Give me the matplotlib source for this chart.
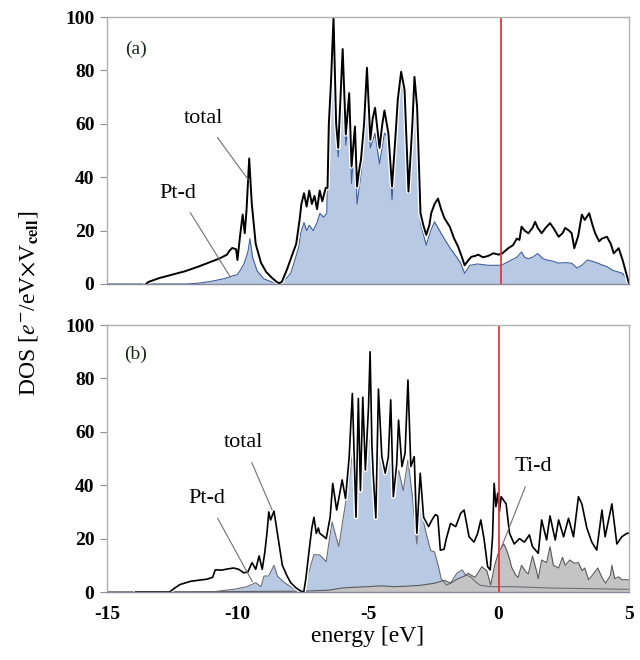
import matplotlib
matplotlib.use("Agg")
import matplotlib.pyplot as plt
import matplotlib.patheffects as pe

plt.rcParams["font.family"] = ["Liberation Serif", "DejaVu Serif"]
plt.rcParams["mathtext.fontset"] = "stix"

# ---------------------------------------
# (a) values
# ---------------------------------------
e_tot_a = [-13.5, -13.4, -13.0, -12.5, -12.0, -11.5, -11.1, -10.7, -10.4, -10.3,
           -10.2, -10.05, -10.0, -9.9, -9.8, -9.72, -9.65, -9.55, -9.45, -9.3,
           -9.1, -8.9, -8.7, -8.5, -8.4, -8.3, -8.1, -7.9, -7.75, -7.62,
           -7.55, -7.45, -7.35, -7.25, -7.15, -7.05, -6.95, -6.85, -6.75, -6.62,
           -6.55, -6.5, -6.42, -6.32, -6.22, -6.14, -5.97, -5.85, -5.72, -5.63,
           -5.5, -5.42, -5.35, -5.27, -5.15, -5.04, -4.91, -4.82, -4.73, -4.56,
           -4.45, -4.37, -4.22, -4.08, -3.95, -3.86, -3.73, -3.6, -3.45, -3.3,
           -3.22, -3.12, -2.99, -2.88, -2.77, -2.65, -2.58, -2.45, -2.32, -2.2,
           -2.07, -1.87, -1.7, -1.55, -1.4, -1.3, -1.15, -1.04, -0.9, -0.78,
           -0.6, -0.4, -0.2, 0.0, 0.15, 0.37, 0.55, 0.7, 0.8, 0.88,
           1.0, 1.14, 1.3, 1.4, 1.5, 1.65, 1.8, 1.97, 2.1, 2.3,
           2.45, 2.55, 2.7, 2.8, 2.9, 3.05, 3.19, 3.3, 3.47, 3.6,
           3.7, 3.85, 3.96, 4.15, 4.3, 4.41, 4.6, 4.75, 4.86, 5.0]
dos_tot_a = [0, 0.8, 2.2, 3.5, 4.8, 6.5, 8, 9.5, 11, 12.5,
             13.5, 13, 9, 18, 26, 19, 28, 47, 30, 15,
             8, 4.5, 2.5, 0.8, 0.3, 0.8, 5.5, 11, 15, 24,
             30, 34, 29, 35, 30, 33, 28, 35, 31, 36,
             36, 60, 75, 100, 60, 51, 88, 56, 71.5, 44,
             59, 36.5, 42, 46.5, 60, 81, 54, 62, 66, 51,
             60, 65, 56.5, 36.5, 55, 69, 79.5, 72.7, 34.6, 60,
             77.6, 66.4, 26.5, 22, 18.4, 22, 26.5, 30, 32, 28,
             24.6, 21.5, 17, 14, 10, 7, 9, 10.2, 10.5, 11,
             10, 10.5, 11.5, 11, 11.5, 13.4, 14.5, 17, 16.5, 21.5,
             20, 19, 21, 23.3, 21, 19, 21, 22.8, 21, 17.7,
             19, 21, 20, 19, 13.4, 18, 26, 24, 26.5, 22,
             19, 16, 17, 17.7, 15, 11.5, 13.4, 9, 5, 0]

e_ptd_a = [-15.0, -12.0, -11.5, -11.0, -10.5, -10.2, -10.0, -9.9, -9.75, -9.6,
           -9.52, -9.42, -9.25, -9.0, -8.7, -8.4, -8.3, -8.1, -7.96, -7.8,
           -7.65, -7.58, -7.45, -7.35, -7.25, -7.1, -6.95, -6.84, -6.7, -6.58,
           -6.52, -6.42, -6.32, -6.22, -6.14, -5.97, -5.85, -5.72, -5.63, -5.5,
           -5.42, -5.27, -5.15, -5.04, -4.91, -4.73, -4.56, -4.37, -4.22, -4.08,
           -3.86, -3.73, -3.6, -3.45, -3.22, -3.12, -2.99, -2.77, -2.6, -2.45,
           -2.2, -2.05, -1.85, -1.6, -1.45, -1.3, -1.1, -0.8, -0.4, 0.1,
           0.3, 0.5, 0.7, 0.88, 1.0, 1.14, 1.3, 1.5, 1.7, 1.85,
           2.1, 2.3, 2.55, 2.8, 3.0, 3.19, 3.4, 3.6, 3.8, 4.0,
           4.15, 4.4, 4.55, 4.75, 4.9, 5.0]
dos_ptd_a = [0, 0, 0.3, 1.0, 2.0, 3.0, 3.5, 5, 7.5, 12,
             17, 10, 5, 2, 0.8, 0.1, 0.3, 2.5, 4, 9,
             14, 19, 23, 20, 22, 20, 23, 26.5, 25, 26.5,
             55, 70, 95, 58, 47.7, 81, 52, 65, 37.7, 56,
             30, 41, 55, 75, 51, 56.5, 45, 56.5, 55, 31.5,
             65, 75, 69, 34, 71.5, 57, 22.8, 14.6, 20, 23.3,
             19, 16.5, 13.4, 10, 7.8, 4, 7, 7.5, 7, 7,
             8, 9, 10, 12, 10, 9.5, 10, 11.4, 9.5, 9,
             8.5, 7.8, 8, 7.8, 6, 7, 9, 8.5, 7.8, 7,
             6.5, 5, 4.6, 4, 2, 0]

# ---------------------------------------
# (b) values
# ---------------------------------------
e_tot_b = [-13.9, -12.6, -12.4, -12.2, -11.8, -11.5, -11.17, -10.95, -10.85, -10.6,
           -10.4, -10.15, -9.95, -9.76, -9.6, -9.44, -9.3, -9.17, -9.05, -8.95,
           -8.86, -8.8, -8.73, -8.6, -8.47, -8.28, -8.1, -7.96, -7.75, -7.6,
           -7.46, -7.38, -7.25, -7.15, -7.07, -6.98, -6.9, -6.85, -6.72, -6.6,
           -6.45, -6.35, -6.2, -6.1, -5.99, -5.86, -5.72, -5.6, -5.46, -5.37,
           -5.29, -5.2, -5.1, -4.98, -4.92, -4.85, -4.8, -4.7, -4.6, -4.47,
           -4.34, -4.22, -4.13, -4.03, -3.9, -3.83, -3.7, -3.58, -3.47, -3.36,
           -3.23, -3.13, -3.0, -2.87, -2.68, -2.55, -2.42, -2.33, -2.23, -2.09,
           -2.0, -1.84, -1.64, -1.45, -1.32, -1.13, -0.94, -0.8, -0.68, -0.55,
           -0.42, -0.32, -0.23, -0.17, -0.1, -0.03, 0.03, 0.1, 0.29, 0.42,
           0.6, 0.8, 0.99, 1.18, 1.3, 1.52, 1.65, 1.84, 1.97, 2.17,
           2.3, 2.49, 2.68, 2.87, 3.06, 3.19, 3.38, 3.57, 3.76, 3.96,
           4.08, 4.34, 4.53, 4.72, 4.92, 5.0]
dos_tot_b = [0, 0, 1.5, 2.8, 4, 4.4, 4.8, 5.5, 8.3, 8.2,
             8.6, 9, 8.5, 7.2, 7.5, 11, 8.5, 13.5, 8.5, 15,
             23, 30, 27, 30.3, 22, 10, 6, 3.5, 1.5, 0.5,
             0, 5, 16, 24, 28, 22, 24, 22, 21, 20,
             28, 40.7, 30.7, 36, 42, 35, 50.7, 74.4, 28, 72.5,
             38, 73, 45.7, 69.4, 90, 55, 44, 27.7, 76, 50.7,
             44.5, 50.7, 72, 35.7, 48, 64.4, 47, 52, 79.4, 47,
             50.7, 22, 44.5, 28, 24.5, 27, 29, 28.5, 15.7, 16,
             20, 25.7, 24.5, 29.5, 30.7, 20.7, 18.7, 22, 27, 19.5,
             9.5, 8.3, 20.7, 40.7, 32, 37, 30, 35.7, 33, 22,
             18, 20, 18.7, 21.4, 17, 14.5, 27, 19.5, 28.5, 19.5,
             27, 20.7, 27.6, 20.7, 35.7, 33, 24, 18.7, 15.7, 30.7,
             20.7, 33, 18, 20.7, 22, 22]

e_ptd_b = [-15.0, -11.0, -10.6, -10.15, -9.63, -9.3, -9.1, -8.98, -8.8, -8.6,
           -8.47, -8.2, -7.8, -7.5, -7.4, -7.25, -7.07, -6.85, -6.6, -6.38,
           -6.12, -5.92, -5.72, -5.6, -5.46, -5.33, -5.2, -5.0, -4.9, -4.8,
           -4.7, -4.6, -4.4, -4.13, -4.0, -3.83, -3.65, -3.47, -3.3, -3.13,
           -3.0, -2.8, -2.6, -2.45, -2.3, -2.2, -2.0, -1.84, -1.6, -1.4,
           -1.26, -1.07, -0.9, -0.7, -0.3, 0.5, 2.0, 5.0]
dos_ptd_b = [0, 0, 0.5, 1, 2, 3.5, 2, 6, 6, 10,
             6, 3.5, 1, 0, 2, 8, 14, 13.9, 11.4, 26.4,
             17, 29.5, 42, 52, 28, 45.7, 48, 54.4, 58, 48,
             27.7, 60.7, 45.7, 54.4, 37, 45.7, 38, 49.5, 35.7, 18,
             33, 23, 15.5, 15, 9.5, 5, 2.6, 3.3, 7, 8.3,
             6.4, 5.7, 4, 2.5, 2, 2, 1.5, 1]

e_tid_b = [-15.0, -13.9, -7.5, -6.5, -6.0, -5.5, -5.0, -4.5, -4.0, -3.5,
           -3.0, -2.45, -2.07, -1.84, -1.55, -1.3, -1.17, -0.9, -0.64, -0.45,
           -0.3, -0.16, -0.03, 0.07, 0.2, 0.3, 0.42, 0.5, 0.65, 0.75,
           0.88, 1.05, 1.14, 1.3, 1.45, 1.52, 1.65, 1.84, 1.97, 2.1,
           2.3, 2.45, 2.55, 2.73, 2.9, 3.06, 3.2, 3.3, 3.45, 3.6,
           3.8, 3.96, 4.1, 4.28, 4.34, 4.45, 4.6, 4.72, 5.0]
dos_tid_b = [0, 0, 0.3, 0.7, 1.5, 1.8, 2, 2.3, 2, 2.2,
             2.5, 3.3, 4.4, 3.3, 5, 6, 7, 5.5, 9.5, 8,
             2.6, 9.5, 14, 16, 18, 16, 12.4, 9.3, 6.4, 5.5,
             10, 7.5, 6.8, 13.5, 8, 5, 12, 11, 17, 10,
             9, 13, 10, 12, 10.8, 11, 8, 9, 4.6, 6.4,
             9, 5.5, 3.3, 6.2, 10, 5, 5.7, 4.6, 4.6]

fermi_a = 0.1
fermi_b = 0.0

blue_fill = "#b7c9e3"
blue_edge = "#3f5f9a"
grey_fill = "#c4c4c4"
grey_edge = "#5a5a5a"
red = "#e8333b"
halo = [pe.withStroke(linewidth=3.2, foreground="white")]

fig = plt.figure(figsize=(6.4, 6.6), dpi=100)
ax_a = fig.add_axes([0.167, 0.5697, 0.816, 0.4045])
ax_b = fig.add_axes([0.167, 0.1030, 0.816, 0.4045])

# top panel
ax_a.fill_between(e_ptd_a, dos_ptd_a, 0, color=blue_fill, lw=0)
ax_a.plot(e_ptd_a, dos_ptd_a, color=blue_edge, lw=0.8)
ax_a.plot(e_tot_a, dos_tot_a, color="black", lw=1.4, path_effects=halo)
ax_a.axvline(fermi_a, color=red, lw=1.3)

# bottom panel
ax_b.fill_between(e_ptd_b, dos_ptd_b, 0, color=blue_fill, lw=0)
ax_b.plot(e_ptd_b, dos_ptd_b, color="#6d6d7a", lw=0.8)
ax_b.fill_between(e_tid_b, dos_tid_b, 0, color=grey_fill, lw=0)
ax_b.plot(e_tid_b, dos_tid_b, color=grey_edge, lw=0.8)
ax_b.plot(e_tot_b, dos_tot_b, color="black", lw=1.2, path_effects=halo)
ax_b.axvline(fermi_b, color=red, lw=1.3)

for ax in (ax_a, ax_b):
    ax.set_xlim(-15, 5)
    ax.set_ylim(0, 100)
    ax.set_yticks([0, 20, 40, 60, 80, 100])
    for s in ax.spines.values():
        s.set_color("#b0b0b0")
        s.set_linewidth(1.0)
    ax.spines["bottom"].set_color("#8a8a9a")
    ax.tick_params(axis="y", length=5, width=0.8, color="#909090",
                   labelsize=14, pad=4)
    for lab in ax.get_yticklabels():
        lab.set_fontweight("bold")

ax_a.set_xticks([])
ax_b.set_xticks([-15, -10, -5, 0, 5])
ax_b.set_xticklabels(["-15", "-10", "-5", "0", "5"])
ax_b.tick_params(axis="x", length=0, labelsize=14, pad=10)
for lab in ax_b.get_xticklabels():
    lab.set_fontweight("bold")

ax_a.text(-13.9, 88, "(a)", fontsize=14, ha="center", va="center", color="#1a2a1a")
ax_b.text(-13.9, 89, "(b)", fontsize=14, ha="center", va="center", color="#1a2a1a")

ann = dict(arrowstyle="-", color="#707070", lw=0.8, shrinkA=6, shrinkB=0)
ax_a.annotate("total", xy=(-9.58, 39), xytext=(-11.3, 62), fontsize=16,
              ha="center", va="center", arrowprops=ann)
ax_a.annotate("Pt-d", xy=(-10.27, 2.6), xytext=(-12.27, 34), fontsize=16,
              ha="center", va="center", arrowprops=ann)
ax_b.annotate("total", xy=(-8.67, 30.7), xytext=(-9.78, 56), fontsize=16,
              ha="center", va="center", arrowprops=ann)
ax_b.annotate("Pt-d", xy=(-9.43, 3.9), xytext=(-11.17, 35), fontsize=16,
              ha="center", va="center", arrowprops=ann)
ax_b.annotate("Ti-d", xy=(0.12, 17), xytext=(1.33, 47), fontsize=16,
              ha="center", va="center", arrowprops=ann)

ax_b.set_xlabel("energy [eV]", fontsize=17, labelpad=2)
fig.text(0.045, 0.54, r"DOS [$e^{-}$/eV$\times$V$_{\mathbf{cell}}$]",
         rotation=90, fontsize=17, ha="center", va="center")

fig.savefig("out.png", dpi=100)
